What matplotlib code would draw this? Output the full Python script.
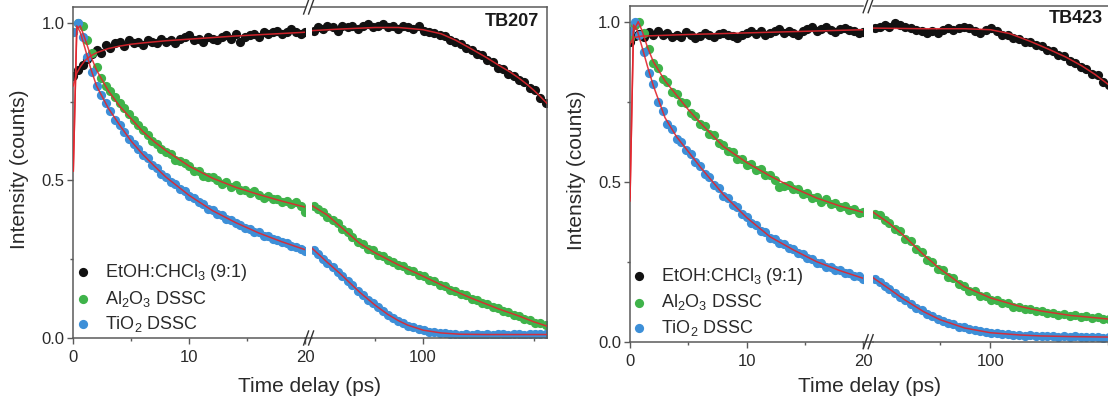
import matplotlib
matplotlib.use("Agg")
import matplotlib.pyplot as plt
from matplotlib.ticker import FixedLocator, NullLocator, FixedFormatter, NullFormatter
from matplotlib.lines import Line2D

plt.rcParams['font.family'] = ['Liberation Sans', 'DejaVu Sans']
plt.rcParams['mathtext.fontset'] = 'custom'
plt.rcParams['mathtext.rm'] = 'Liberation Sans'
plt.rcParams['mathtext.it'] = 'Liberation Sans:italic'
plt.rcParams['mathtext.default'] = 'regular'

# ---------------- data ----------------
labels = ['EtOH:CHCl$_3$ (9:1)', 'Al$_2$O$_3$ DSSC', 'TiO$_2$ DSSC']
panel_titles = ['TB207', 'TB423']

t_short = [0.0, 0.4, 0.8, 1.2, 1.6, 2.0, 2.4, 2.8, 3.2, 3.6,
           4.0, 4.4, 4.8, 5.2, 5.6, 6.0, 6.4, 6.8, 7.2, 7.6,
           8.0, 8.4, 8.8, 9.2, 9.6, 10.0, 10.4, 10.8, 11.2, 11.6,
           12.0, 12.4, 12.8, 13.2, 13.6, 14.0, 14.4, 14.8, 15.2, 15.6,
           16.0, 16.4, 16.8, 17.2, 17.6, 18.0, 18.4, 18.8, 19.2, 19.6,
           20.0]
t_long = [20.5, 22, 23.5, 25, 27, 29, 31, 33.5, 36, 39,
          42, 45, 48.5, 52, 56, 60, 65, 70, 75, 81,
          87, 94, 101, 109, 118, 127, 137, 148, 160, 173,
          187, 202, 218, 235, 254, 274, 296, 320, 345, 372,
          402, 434, 468, 505, 545, 590]

# TB207 ---------------------------------------------------------
tb207_black_s = [0.83, 0.85, 0.865, 0.885, 0.90, 0.915, 0.905, 0.93, 0.92, 0.935,
                 0.94, 0.925, 0.945, 0.935, 0.94, 0.93, 0.945, 0.94, 0.935, 0.95,
                 0.94, 0.945, 0.935, 0.95, 0.955, 0.96, 0.945, 0.95, 0.94, 0.955,
                 0.95, 0.945, 0.955, 0.96, 0.95, 0.965, 0.94, 0.955, 0.96, 0.965,
                 0.955, 0.97, 0.965, 0.97, 0.975, 0.965, 0.97, 0.98, 0.97, 0.965,
                 0.97]
tb207_green_s = [0.97, 1.0, 0.99, 0.945, 0.905, 0.86, 0.825, 0.80, 0.785, 0.765,
                 0.745, 0.73, 0.71, 0.69, 0.675, 0.66, 0.645, 0.625, 0.615, 0.60,
                 0.59, 0.585, 0.565, 0.56, 0.555, 0.545, 0.53, 0.53, 0.515, 0.51,
                 0.51, 0.50, 0.49, 0.495, 0.48, 0.485, 0.47, 0.47, 0.46, 0.465,
                 0.455, 0.445, 0.45, 0.44, 0.44, 0.43, 0.435, 0.425, 0.43, 0.42,
                 0.40]
tb207_blue_s = [0.97, 1.0, 0.955, 0.89, 0.845, 0.80, 0.77, 0.745, 0.72, 0.69,
                0.675, 0.655, 0.63, 0.615, 0.60, 0.58, 0.57, 0.55, 0.54, 0.52,
                0.51, 0.495, 0.487, 0.472, 0.465, 0.45, 0.443, 0.43, 0.424, 0.41,
                0.405, 0.394, 0.39, 0.378, 0.375, 0.364, 0.36, 0.35, 0.347, 0.337,
                0.335, 0.325, 0.322, 0.313, 0.31, 0.303, 0.30, 0.293, 0.29, 0.283,
                0.275]
tb207_black_l = [0.975, 0.985, 0.98, 0.99, 0.985, 0.975, 0.99, 0.985, 0.99, 0.98,
                 0.99, 0.995, 0.985, 0.99, 0.995, 0.985, 0.99, 0.98, 0.99, 0.985,
                 0.98, 0.99, 0.975, 0.97, 0.968, 0.96, 0.957, 0.945, 0.938, 0.932,
                 0.92, 0.913, 0.90, 0.897, 0.883, 0.877, 0.858, 0.852, 0.838, 0.832,
                 0.818, 0.812, 0.793, 0.787, 0.762, 0.745]
tb207_green_l = [0.42, 0.41, 0.40, 0.385, 0.375, 0.365, 0.345, 0.335, 0.32, 0.305,
                 0.297, 0.283, 0.28, 0.262, 0.26, 0.248, 0.242, 0.23, 0.228, 0.215,
                 0.212, 0.20, 0.197, 0.185, 0.18, 0.168, 0.164, 0.153, 0.15, 0.138,
                 0.135, 0.124, 0.122, 0.111, 0.108, 0.098, 0.095, 0.085, 0.082, 0.073,
                 0.069, 0.061, 0.058, 0.049, 0.047, 0.04]
tb207_blue_l = [0.28, 0.265, 0.25, 0.238, 0.225, 0.21, 0.197, 0.18, 0.167, 0.15,
                0.137, 0.122, 0.111, 0.097, 0.086, 0.074, 0.064, 0.053, 0.047, 0.038,
                0.034, 0.027, 0.025, 0.02, 0.019, 0.015, 0.015, 0.012, 0.013, 0.01,
                0.013, 0.01, 0.012, 0.009, 0.013, 0.01, 0.012, 0.013, 0.01, 0.012,
                0.014, 0.011, 0.013, 0.012, 0.014, 0.013]

# fits (TB207)
tb207_black_fit_ts = [0, 0.3, 0.6, 1, 1.5, 2, 3, 4, 5, 6, 8, 10, 12, 14, 16, 18, 20]
tb207_black_fit_s = [0.80, 0.84, 0.86, 0.88, 0.895, 0.905, 0.918, 0.926, 0.932, 0.936,
                     0.943, 0.948, 0.953, 0.958, 0.962, 0.966, 0.97]
tb207_green_fit_ts = [0, 0.3, 0.6, 1, 1.5, 2, 3, 4, 5, 6, 7, 8, 10, 12, 14, 16, 18, 20]
tb207_green_fit_s = [0.53, 0.98, 0.99, 0.95, 0.895, 0.85, 0.785, 0.735, 0.695, 0.655,
                     0.622, 0.594, 0.545, 0.507, 0.478, 0.455, 0.434, 0.415]
tb207_blue_fit_ts = [0, 0.3, 0.6, 1, 1.5, 2, 3, 4, 5, 6, 7, 8, 10, 12, 14, 16, 18, 20]
tb207_blue_fit_s = [0.53, 0.99, 0.97, 0.92, 0.855, 0.80, 0.73, 0.675, 0.624, 0.582,
                    0.545, 0.51, 0.452, 0.404, 0.366, 0.333, 0.305, 0.28]
tb207_black_fit_tl = [20, 30, 50, 70, 100, 130, 160, 200, 250, 300, 350, 400, 450, 500, 550, 600]
tb207_black_fit_l = [0.975, 0.98, 0.985, 0.985, 0.978, 0.965, 0.945, 0.918, 0.89, 0.865,
                     0.845, 0.825, 0.805, 0.785, 0.765, 0.745]
tb207_green_fit_tl = [20, 25, 30, 40, 50, 70, 100, 150, 200, 300, 400, 500, 600]
tb207_green_fit_l = [0.42, 0.39, 0.355, 0.30, 0.27, 0.232, 0.196, 0.154, 0.127, 0.092,
                     0.07, 0.051, 0.038]
tb207_blue_fit_tl = [20, 25, 30, 40, 50, 60, 70, 80, 100, 130, 170, 250, 400, 600]
tb207_blue_fit_l = [0.285, 0.24, 0.205, 0.145, 0.104, 0.075, 0.055, 0.041, 0.025, 0.016,
                    0.012, 0.011, 0.011, 0.011]

# TB423 ---------------------------------------------------------
tb423_black_s = [0.935, 0.955, 0.962, 0.953, 0.967, 0.958, 0.97, 0.96, 0.966, 0.952,
                 0.96, 0.953, 0.967, 0.958, 0.948, 0.955, 0.966, 0.96, 0.952, 0.962,
                 0.966, 0.958, 0.955, 0.948, 0.96, 0.966, 0.972, 0.963, 0.97, 0.958,
                 0.965, 0.972, 0.977, 0.964, 0.97, 0.966, 0.958, 0.972, 0.976, 0.982,
                 0.97, 0.977, 0.982, 0.975, 0.969, 0.976, 0.981, 0.975, 0.97, 0.965,
                 0.968]
tb423_green_s = [0.95, 0.99, 1.0, 0.965, 0.915, 0.87, 0.855, 0.82, 0.81, 0.78,
                 0.775, 0.75, 0.745, 0.715, 0.705, 0.68, 0.675, 0.65, 0.645, 0.62,
                 0.615, 0.595, 0.592, 0.57, 0.572, 0.553, 0.556, 0.538, 0.539, 0.52,
                 0.522, 0.505, 0.485, 0.488, 0.49, 0.476, 0.478, 0.462, 0.465, 0.45,
                 0.453, 0.438, 0.445, 0.43, 0.432, 0.42, 0.425, 0.412, 0.415, 0.402,
                 0.405]
tb423_blue_s = [0.97, 1.0, 0.96, 0.905, 0.84, 0.805, 0.75, 0.72, 0.68, 0.665,
                0.635, 0.625, 0.598, 0.588, 0.56, 0.55, 0.525, 0.515, 0.49, 0.48,
                0.455, 0.45, 0.428, 0.42, 0.398, 0.391, 0.37, 0.366, 0.346, 0.342,
                0.325, 0.322, 0.308, 0.306, 0.292, 0.29, 0.276, 0.274, 0.261, 0.26,
                0.247, 0.246, 0.234, 0.235, 0.224, 0.225, 0.214, 0.215, 0.204, 0.206,
                0.196]
tb423_black_l = [0.98, 0.985, 0.99, 0.985, 0.995, 0.99, 0.985, 0.98, 0.975, 0.97,
                 0.965, 0.97, 0.965, 0.975, 0.98, 0.975, 0.98, 0.985, 0.98, 0.97,
                 0.965, 0.975, 0.98, 0.972, 0.96, 0.957, 0.948, 0.947, 0.936, 0.937,
                 0.926, 0.925, 0.912, 0.91, 0.897, 0.892, 0.877, 0.872, 0.857, 0.852,
                 0.838, 0.832, 0.813, 0.802, 0.79, 0.78]
tb423_green_l = [0.40, 0.395, 0.38, 0.372, 0.352, 0.345, 0.322, 0.315, 0.29, 0.28,
                 0.255, 0.25, 0.228, 0.225, 0.203, 0.20, 0.18, 0.175, 0.16, 0.158,
                 0.143, 0.143, 0.131, 0.13, 0.12, 0.12, 0.11, 0.11, 0.102, 0.102,
                 0.095, 0.096, 0.089, 0.09, 0.084, 0.086, 0.08, 0.082, 0.077, 0.079,
                 0.073, 0.076, 0.07, 0.072, 0.067, 0.07]
tb423_blue_l = [0.195, 0.186, 0.174, 0.166, 0.152, 0.141, 0.129, 0.119, 0.106, 0.098,
                0.087, 0.081, 0.071, 0.066, 0.058, 0.055, 0.047, 0.045, 0.039, 0.037,
                0.032, 0.031, 0.027, 0.027, 0.024, 0.024, 0.021, 0.022, 0.019, 0.021,
                0.018, 0.019, 0.017, 0.018, 0.016, 0.017, 0.015, 0.017, 0.015, 0.016,
                0.014, 0.016, 0.013, 0.015, 0.013, 0.014]

tb423_black_fit_ts = [0, 0.3, 1, 5, 10, 15, 20]
tb423_black_fit_s = [0.93, 0.95, 0.955, 0.96, 0.965, 0.97, 0.975]
tb423_green_fit_ts = [0, 0.3, 0.7, 1, 1.5, 2, 3, 4, 5, 6, 8, 10, 12, 14, 16, 18, 20]
tb423_green_fit_s = [0.45, 0.97, 1.0, 0.975, 0.92, 0.875, 0.815, 0.77, 0.725, 0.685,
                     0.61, 0.56, 0.518, 0.481, 0.449, 0.424, 0.404]
tb423_blue_fit_ts = [0, 0.3, 0.6, 1, 1.5, 2, 3, 4, 5, 6, 8, 10, 12, 14, 16, 18, 20]
tb423_blue_fit_s = [0.44, 0.99, 0.975, 0.925, 0.86, 0.80, 0.70, 0.64, 0.594, 0.547,
                    0.46, 0.388, 0.328, 0.287, 0.25, 0.222, 0.198]
tb423_black_fit_tl = [20, 40, 70, 100, 130, 170, 220, 280, 350, 420, 500, 600]
tb423_black_fit_l = [0.98, 0.978, 0.978, 0.975, 0.963, 0.94, 0.915, 0.89, 0.862, 0.835,
                     0.805, 0.775]
tb423_green_fit_tl = [20, 25, 30, 40, 50, 70, 100, 150, 200, 300, 400, 500, 600]
tb423_green_fit_l = [0.405, 0.37, 0.335, 0.272, 0.228, 0.172, 0.137, 0.11, 0.096, 0.082,
                     0.076, 0.071, 0.068]
tb423_blue_fit_tl = [20, 25, 30, 40, 50, 70, 100, 150, 200, 300, 600]
tb423_blue_fit_l = [0.2, 0.165, 0.135, 0.094, 0.069, 0.043, 0.028, 0.021, 0.018, 0.016, 0.014]

# ---------------- style ----------------
COLORS = ['#111111', '#3fb34a', '#3d8fd8']
RED = '#e2252d'
SPINE = '#5a5a5a'
TXT = '#2a2a2a'
W, H = 1108, 405

fig = plt.figure(figsize=(W / 100, H / 100), dpi=100)


def rect(x0, x1, ytop, ybot):
    return [x0 / W, 1 - ybot / H, (x1 - x0) / W, (ybot - ytop) / H]


def fig_line(xs, ys, **kw):
    fig.add_artist(Line2D([x / W for x in xs], [1 - y / H for y in ys],
                          transform=fig.transFigure, **kw))


def panel(px, ytop, ybot, xmax, short_series, long_series, fits_s, fits_l,
          title, title_xy, leg_anchor, ylab_x, xlab_x):
    x0, x1, x2, x3 = px
    axs = fig.add_axes(rect(x0, x1, ytop, ybot))
    axl = fig.add_axes(rect(x2, x3, ytop, ybot))
    for ys, c, lab in zip(short_series, COLORS, labels):
        axs.scatter(t_short, ys, s=44, c=c, linewidths=0, zorder=2, label=lab)
    for ys, c in zip(long_series, COLORS):
        axl.scatter(t_long, ys, s=44, c=c, linewidths=0, zorder=2)
    for ft, fy in fits_s:
        axs.plot(ft, fy, color=RED, lw=1.1, alpha=0.9, zorder=3)
    for ft, fy in fits_l:
        axl.plot(ft, fy, color=RED, lw=1.1, alpha=0.9, zorder=3)

    axs.set_xlim(0, 20)
    axl.set_xscale('log')
    axl.set_xlim(20, xmax)
    for a in (axs, axl):
        a.set_ylim(0, 1.05)
        for sp in a.spines.values():
            sp.set_color(SPINE)
            sp.set_linewidth(1.1)
        a.tick_params(which='both', direction='out', color=SPINE, width=1,
                      labelsize=12, labelcolor=TXT, top=False, right=False)
        a.tick_params(which='major', length=4.5)
        a.tick_params(which='minor', length=2.5)
        a.tick_params(axis='x', pad=4)
        a.tick_params(axis='y', pad=2)
    axs.spines['right'].set_visible(False)
    axl.spines['left'].set_visible(False)

    axs.xaxis.set_major_locator(FixedLocator([0, 10, 20]))
    axs.xaxis.set_major_formatter(FixedFormatter(['0', '10', '20']))
    axs.xaxis.set_minor_locator(FixedLocator([5, 15]))
    axs.yaxis.set_major_locator(FixedLocator([0, 0.5, 1.0]))
    axs.yaxis.set_major_formatter(FixedFormatter(['0.0', '0.5', '1.0']))
    axs.yaxis.set_minor_locator(FixedLocator([0.25, 0.75]))

    axl.xaxis.set_major_locator(FixedLocator([100]))
    axl.xaxis.set_major_formatter(FixedFormatter(['100']))
    axl.xaxis.set_minor_locator(FixedLocator([50, 500]))
    axl.xaxis.set_minor_formatter(NullFormatter())
    axl.yaxis.set_major_locator(NullLocator())
    axl.yaxis.set_minor_locator(NullLocator())

    axl.text(title_xy[0], title_xy[1], title, transform=axl.transAxes,
             ha='right', va='center', fontsize=13, fontweight='bold', color='#1a1a1a')

    axs.legend(loc='lower left', bbox_to_anchor=leg_anchor, frameon=False,
               fontsize=13, handlelength=1.0, handletextpad=0.7, labelspacing=0.3,
               borderpad=0, borderaxespad=0, scatterpoints=1, labelcolor=TXT)

    # break marks and joined bottom spine
    xc = (x1 + x2) / 2
    fig_line([x1, x2], [ybot, ybot], color=SPINE, lw=1.1)
    for off in (-2.5, 2.5):
        for yc in (ytop, ybot):
            fig_line([xc + off - 2.5, xc + off + 2.5], [yc + 7, yc - 7],
                     color='#333333', lw=1.0)

    fig.text(ylab_x / W, 1 - ((ytop + ybot) / 2 - 3) / H, 'Intensity (counts)',
             rotation=90, ha='center', va='center', fontsize=15, color=TXT)
    fig.text(xlab_x / W, 1 - 386.5 / H, 'Time delay (ps)', ha='center',
             va='center', fontsize=15, color=TXT)


panel((73.3, 305.3, 311.9, 546.7), 7.0, 338.0, 600,
      [tb207_black_s, tb207_green_s, tb207_blue_s],
      [tb207_black_l, tb207_green_l, tb207_blue_l],
      [(tb207_black_fit_ts, tb207_black_fit_s), (tb207_green_fit_ts, tb207_green_fit_s),
       (tb207_blue_fit_ts, tb207_blue_fit_s)],
      [(tb207_black_fit_tl, tb207_black_fit_l), (tb207_green_fit_tl, tb207_green_fit_l),
       (tb207_blue_fit_tl, tb207_blue_fit_l)],
      panel_titles[0], (0.967, 0.956), (0.004, 0.012), 20, 310)

panel((630.0, 863.3, 873.0, 1110.0), 5.7, 341.7, 515,
      [tb423_black_s, tb423_green_s, tb423_blue_s],
      [tb423_black_l, tb423_green_l, tb423_blue_l],
      [(tb423_black_fit_ts, tb423_black_fit_s), (tb423_green_fit_ts, tb423_green_fit_s),
       (tb423_blue_fit_ts, tb423_blue_fit_s)],
      [(tb423_black_fit_tl, tb423_black_fit_l), (tb423_green_fit_tl, tb423_green_fit_l),
       (tb423_blue_fit_tl, tb423_blue_fit_l)],
      panel_titles[1], (0.972, 0.9625), (0.0, 0.012), 576, 869)

fig.savefig('out.png', dpi=100)
